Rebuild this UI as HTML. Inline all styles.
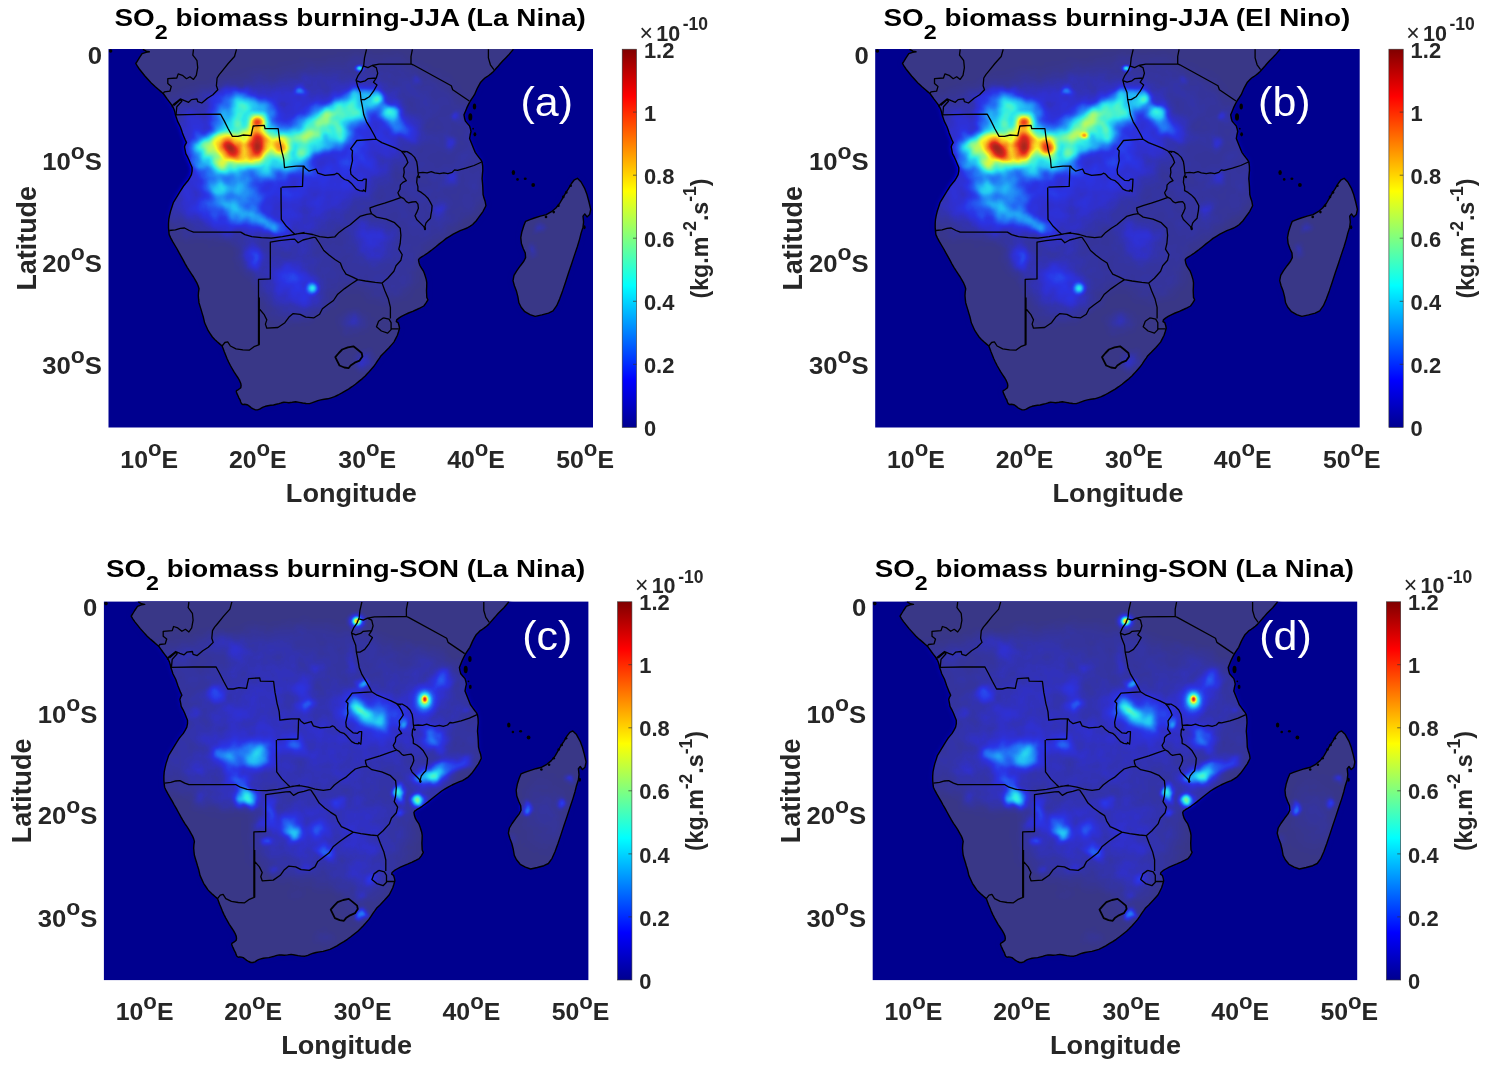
<!DOCTYPE html>
<html lang="en"><head><meta charset="utf-8"><title>SO2 biomass burning</title>
<style>
html,body{margin:0;padding:0;background:#fff}
body{width:1496px;height:1080px;overflow:hidden}
svg{display:block}
text{font-family:'Liberation Sans',Arial,Helvetica,sans-serif;font-weight:bold;fill:#262626}
.t{fill:#000}
.w{fill:#fff;font-weight:normal}
</style></head><body>
<svg width="1496" height="1080" viewBox="0 0 1496 1080">
<defs>
<path id="land" d="M142.8 49.3 L146.3 51.2 L149.3 51.8 L146.0 52.3 L142.1 53.7 L139.3 57.9 L137.2 61.4 L135.8 63.5 L137.4 66.2 L139.3 69.0 L142.1 72.5 L144.9 76.0 L148.3 79.8 L151.8 83.6 L155.3 86.8 L158.8 89.8 L161.5 92.1 L163.6 94.0 L165.4 96.5 L167.1 98.9 L169.2 101.7 L171.3 104.4 L172.9 106.9 L174.0 109.3 L174.9 112.1 L175.4 114.8 L176.5 117.9 L177.5 121.1 L178.9 123.9 L180.3 126.7 L181.4 129.8 L182.4 132.9 L183.8 136.4 L185.2 139.8 L186.5 142.6 L185.2 144.8 L184.5 146.8 L185.2 150.3 L185.8 153.7 L187.7 157.2 L189.3 160.7 L190.7 164.2 L192.1 167.6 L192.1 171.1 L191.4 174.6 L189.7 177.8 L187.9 180.8 L185.8 183.3 L183.8 185.7 L182.0 188.5 L180.3 191.2 L173.3 202.7 L172.0 206.8 L170.6 211.0 L169.6 215.2 L168.8 219.3 L168.5 223.5 L168.5 227.7 L168.8 231.2 L169.2 234.6 L170.8 238.1 L172.7 241.6 L174.7 245.0 L176.8 248.5 L178.9 252.4 L181.0 256.1 L183.1 259.9 L185.2 263.8 L187.2 267.3 L189.3 270.7 L191.4 273.8 L193.5 277.0 L195.3 280.2 L197.0 283.2 L198.2 286.0 L199.0 288.8 L198.5 292.3 L198.3 295.7 L198.6 299.2 L199.0 302.7 L200.0 306.1 L201.1 309.6 L202.1 313.1 L203.2 316.6 L203.9 319.6 L204.6 322.8 L208.2 330.7 L210.3 333.9 L212.4 337.0 L214.7 339.5 L217.2 341.8 L219.6 343.9 L222.1 346.0 L223.2 348.8 L224.2 351.6 L225.6 355.0 L227.0 358.5 L228.6 362.0 L230.4 365.5 L232.1 368.5 L233.9 371.7 L236.0 374.9 L238.1 378.0 L239.6 380.7 L240.8 383.5 L241.1 385.7 L240.8 387.7 L239.5 388.8 L238.1 389.8 L236.5 390.7 L236.3 391.8 L237.1 393.9 L238.1 396.0 L239.0 398.1 L240.2 400.2 L240.7 402.0 L241.5 403.6 L242.9 404.6 L244.3 404.3 L246.0 404.5 L247.8 405.0 L249.6 406.4 L251.3 407.8 L253.3 408.9 L255.4 409.9 L257.5 409.9 L259.6 409.2 L261.3 408.1 L263.1 407.1 L265.4 406.3 L267.9 405.7 L270.7 405.3 L273.5 405.0 L276.3 404.3 L279.0 403.6 L281.5 402.8 L283.9 402.3 L286.3 402.4 L288.8 402.7 L292.2 402.3 L295.7 401.8 L299.2 402.4 L302.7 403.0 L306.1 403.5 L309.6 403.6 L312.4 402.7 L315.2 401.6 L317.9 400.6 L320.7 399.9 L324.2 399.3 L327.7 398.8 L331.1 397.8 L334.6 396.7 L338.1 395.0 L341.5 393.2 L345.0 391.1 L348.5 389.1 L352.0 386.7 L355.4 384.2 L358.9 381.4 L362.4 378.6 L365.2 375.9 L367.9 373.1 L370.7 370.0 L373.5 366.8 L375.6 363.8 L377.7 360.6 L379.5 358.1 L381.1 355.7 L384.6 352.3 L389.0 347.7 L391.5 344.9 L393.9 342.1 L395.7 338.6 L397.4 335.2 L398.5 331.7 L399.5 328.2 L399.0 325.5 L398.1 322.7 L396.3 321.6 L396.7 319.9 L398.8 318.1 L401.5 316.4 L405.0 314.6 L408.5 313.0 L412.7 311.3 L416.8 309.5 L420.3 307.8 L423.8 306.0 L425.9 303.2 L427.9 299.8 L426.8 297.4 L426.5 290.5 L426.7 286.6 L426.8 282.8 L426.3 279.6 L425.4 276.6 L424.5 273.8 L423.4 271.0 L421.5 268.2 L419.9 265.5 L419.0 262.7 L418.5 259.9 L419.3 258.5 L421.3 257.1 L424.0 255.5 L426.8 253.7 L429.6 251.6 L432.4 249.5 L435.9 246.7 L439.3 243.9 L442.8 241.2 L446.3 238.4 L449.7 236.3 L453.2 234.2 L456.7 232.4 L460.2 230.7 L463.6 229.3 L467.1 228.0 L469.9 226.3 L472.7 224.5 L474.3 222.8 L476.1 221.0 L477.8 218.7 L479.6 216.2 L481.3 213.8 L483.1 211.3 L484.5 208.5 L485.9 205.7 L485.2 201.6 L484.0 198.1 L483.1 194.6 L482.8 187.1 L482.5 182.9 L482.1 178.7 L482.4 174.6 L482.8 170.4 L482.7 166.2 L482.1 162.1 L481.0 160.0 L479.3 157.9 L477.2 155.1 L475.2 152.3 L473.8 148.9 L472.4 145.4 L471.0 141.9 L469.6 138.5 L470.2 135.0 L471.0 131.5 L470.4 128.7 L469.6 126.0 L467.5 123.6 L465.4 121.1 L464.5 118.0 L464.0 114.8 L465.4 111.4 L466.8 107.9 L468.5 104.4 L470.3 101.0 L472.4 97.8 L474.5 94.7 L475.9 91.5 L477.2 88.5 L478.9 85.3 L480.7 82.2 L482.8 80.1 L484.9 78.0 L487.0 76.7 L489.0 75.3 L491.1 73.6 L493.2 71.8 L495.6 69.0 L498.1 66.2 L500.4 63.5 L502.9 60.7 L505.7 57.9 L508.5 55.1 L511.0 52.1 L513.4 49.3 L513.4 40.0 L142.8 40.0ZM577.4 178.3 L581.1 182.0 L584.8 188.7 L587.0 194.6 L589.0 202.0 L590.7 209.4 L589.6 214.6 L587.0 216.9 L584.8 213.9 L583.0 216.1 L583.6 222.0 L583.0 227.2 L581.1 233.1 L579.6 239.1 L577.4 246.5 L574.4 255.4 L571.5 264.3 L568.5 273.1 L565.6 282.0 L562.6 290.9 L559.6 299.1 L556.7 305.7 L553.0 310.9 L548.5 313.1 L541.9 314.9 L535.2 316.4 L530.0 314.6 L524.8 311.7 L521.1 307.2 L518.9 302.8 L517.9 296.9 L516.4 290.9 L514.4 285.7 L513.0 280.6 L514.0 275.4 L516.7 270.9 L520.4 265.7 L523.8 261.3 L525.6 257.6 L525.3 253.1 L523.3 248.7 L521.4 243.5 L520.8 237.6 L521.9 231.7 L523.8 225.7 L525.6 221.3 L529.3 219.8 L534.4 218.0 L540.4 216.1 L546.3 214.6 L551.5 211.7 L555.9 208.0 L559.6 203.5 L562.6 198.3 L565.6 193.1 L568.5 188.7 L571.5 183.5 L574.4 179.8Z"/>
<path id="coast" d="M142.8 49.3 L146.3 51.2 L149.3 51.8 L146.0 52.3 L142.1 53.7 L139.3 57.9 L137.2 61.4 L135.8 63.5 L137.4 66.2 L139.3 69.0 L142.1 72.5 L144.9 76.0 L148.3 79.8 L151.8 83.6 L155.3 86.8 L158.8 89.8 L161.5 92.1 L163.6 94.0 L165.4 96.5 L167.1 98.9 L169.2 101.7 L171.3 104.4 L172.9 106.9 L174.0 109.3 L174.9 112.1 L175.4 114.8 L176.5 117.9 L177.5 121.1 L178.9 123.9 L180.3 126.7 L181.4 129.8 L182.4 132.9 L183.8 136.4 L185.2 139.8 L186.5 142.6 L185.2 144.8 L184.5 146.8 L185.2 150.3 L185.8 153.7 L187.7 157.2 L189.3 160.7 L190.7 164.2 L192.1 167.6 L192.1 171.1 L191.4 174.6 L189.7 177.8 L187.9 180.8 L185.8 183.3 L183.8 185.7 L182.0 188.5 L180.3 191.2 L173.3 202.7 L172.0 206.8 L170.6 211.0 L169.6 215.2 L168.8 219.3 L168.5 223.5 L168.5 227.7 L168.8 231.2 L169.2 234.6 L170.8 238.1 L172.7 241.6 L174.7 245.0 L176.8 248.5 L178.9 252.4 L181.0 256.1 L183.1 259.9 L185.2 263.8 L187.2 267.3 L189.3 270.7 L191.4 273.8 L193.5 277.0 L195.3 280.2 L197.0 283.2 L198.2 286.0 L199.0 288.8 L198.5 292.3 L198.3 295.7 L198.6 299.2 L199.0 302.7 L200.0 306.1 L201.1 309.6 L202.1 313.1 L203.2 316.6 L203.9 319.6 L204.6 322.8 L208.2 330.7 L210.3 333.9 L212.4 337.0 L214.7 339.5 L217.2 341.8 L219.6 343.9 L222.1 346.0 L223.2 348.8 L224.2 351.6 L225.6 355.0 L227.0 358.5 L228.6 362.0 L230.4 365.5 L232.1 368.5 L233.9 371.7 L236.0 374.9 L238.1 378.0 L239.6 380.7 L240.8 383.5 L241.1 385.7 L240.8 387.7 L239.5 388.8 L238.1 389.8 L236.5 390.7 L236.3 391.8 L237.1 393.9 L238.1 396.0 L239.0 398.1 L240.2 400.2 L240.7 402.0 L241.5 403.6 L242.9 404.6 L244.3 404.3 L246.0 404.5 L247.8 405.0 L249.6 406.4 L251.3 407.8 L253.3 408.9 L255.4 409.9 L257.5 409.9 L259.6 409.2 L261.3 408.1 L263.1 407.1 L265.4 406.3 L267.9 405.7 L270.7 405.3 L273.5 405.0 L276.3 404.3 L279.0 403.6 L281.5 402.8 L283.9 402.3 L286.3 402.4 L288.8 402.7 L292.2 402.3 L295.7 401.8 L299.2 402.4 L302.7 403.0 L306.1 403.5 L309.6 403.6 L312.4 402.7 L315.2 401.6 L317.9 400.6 L320.7 399.9 L324.2 399.3 L327.7 398.8 L331.1 397.8 L334.6 396.7 L338.1 395.0 L341.5 393.2 L345.0 391.1 L348.5 389.1 L352.0 386.7 L355.4 384.2 L358.9 381.4 L362.4 378.6 L365.2 375.9 L367.9 373.1 L370.7 370.0 L373.5 366.8 L375.6 363.8 L377.7 360.6 L379.5 358.1 L381.1 355.7 L384.6 352.3 L389.0 347.7 L391.5 344.9 L393.9 342.1 L395.7 338.6 L397.4 335.2 L398.5 331.7 L399.5 328.2 L399.0 325.5 L398.1 322.7 L396.3 321.6 L396.7 319.9 L398.8 318.1 L401.5 316.4 L405.0 314.6 L408.5 313.0 L412.7 311.3 L416.8 309.5 L420.3 307.8 L423.8 306.0 L425.9 303.2 L427.9 299.8 L426.8 297.4 L426.5 290.5 L426.7 286.6 L426.8 282.8 L426.3 279.6 L425.4 276.6 L424.5 273.8 L423.4 271.0 L421.5 268.2 L419.9 265.5 L419.0 262.7 L418.5 259.9 L419.3 258.5 L421.3 257.1 L424.0 255.5 L426.8 253.7 L429.6 251.6 L432.4 249.5 L435.9 246.7 L439.3 243.9 L442.8 241.2 L446.3 238.4 L449.7 236.3 L453.2 234.2 L456.7 232.4 L460.2 230.7 L463.6 229.3 L467.1 228.0 L469.9 226.3 L472.7 224.5 L474.3 222.8 L476.1 221.0 L477.8 218.7 L479.6 216.2 L481.3 213.8 L483.1 211.3 L484.5 208.5 L485.9 205.7 L485.2 201.6 L484.0 198.1 L483.1 194.6 L482.8 187.1 L482.5 182.9 L482.1 178.7 L482.4 174.6 L482.8 170.4 L482.7 166.2 L482.1 162.1 L481.0 160.0 L479.3 157.9 L477.2 155.1 L475.2 152.3 L473.8 148.9 L472.4 145.4 L471.0 141.9 L469.6 138.5 L470.2 135.0 L471.0 131.5 L470.4 128.7 L469.6 126.0 L467.5 123.6 L465.4 121.1 L464.5 118.0 L464.0 114.8 L465.4 111.4 L466.8 107.9 L468.5 104.4 L470.3 101.0 L472.4 97.8 L474.5 94.7 L475.9 91.5 L477.2 88.5 L478.9 85.3 L480.7 82.2 L482.8 80.1 L484.9 78.0 L487.0 76.7 L489.0 75.3 L491.1 73.6 L493.2 71.8 L495.6 69.0 L498.1 66.2 L500.4 63.5 L502.9 60.7 L505.7 57.9 L508.5 55.1 L511.0 52.1 L513.4 49.3M577.4 178.3 L581.1 182.0 L584.8 188.7 L587.0 194.6 L589.0 202.0 L590.7 209.4 L589.6 214.6 L587.0 216.9 L584.8 213.9 L583.0 216.1 L583.6 222.0 L583.0 227.2 L581.1 233.1 L579.6 239.1 L577.4 246.5 L574.4 255.4 L571.5 264.3 L568.5 273.1 L565.6 282.0 L562.6 290.9 L559.6 299.1 L556.7 305.7 L553.0 310.9 L548.5 313.1 L541.9 314.9 L535.2 316.4 L530.0 314.6 L524.8 311.7 L521.1 307.2 L518.9 302.8 L517.9 296.9 L516.4 290.9 L514.4 285.7 L513.0 280.6 L514.0 275.4 L516.7 270.9 L520.4 265.7 L523.8 261.3 L525.6 257.6 L525.3 253.1 L523.3 248.7 L521.4 243.5 L520.8 237.6 L521.9 231.7 L523.8 225.7 L525.6 221.3 L529.3 219.8 L534.4 218.0 L540.4 216.1 L546.3 214.6 L551.5 211.7 L555.9 208.0 L559.6 203.5 L562.6 198.3 L565.6 193.1 L568.5 188.7 L571.5 183.5 L574.4 179.8Z"/>
<path id="borders" d="M193.5 49.3 L192.8 55.1 L195.2 58.2 L197.0 60.7 L197.7 67.6 L196.3 75.3 L193.5 79.4 L190.0 76.7 L186.5 78.7 L182.4 75.3 L178.2 73.9 L176.8 78.0 L167.8 78.7 L167.8 83.6 L171.3 86.4 L169.9 91.2 L164.3 91.9 L162.9 94.0M236.5 49.3 L234.5 56.5 L228.2 63.5 L222.7 70.4 L219.2 74.6 L217.1 78.0 L216.4 85.7 L217.8 89.8 L212.9 94.7 L207.4 98.2 L201.8 103.0 L197.7 101.7 L197.0 98.9 L191.4 99.6 L188.6 102.3 L184.5 100.7 L180.3 98.9 L176.8 101.7 L173.3 104.4 L172.0 107.2M174.0 105.4 L180.3 99.8 L181.8 101.2 L176.8 106.8 L176.1 114.2M175.4 114.8 L197.7 114.4 L220.6 114.2 L224.0 120.4 L228.2 128.7 L232.4 136.4 L237.9 136.4 L243.5 135.0 L251.1 135.7 L252.1 130.8 L253.2 126.0 L264.3 125.3 L265.0 128.5 L278.2 128.7 L278.9 134.3 L279.6 139.8 L280.7 145.4 L281.7 151.0 L282.8 155.1 L283.8 159.3 L284.5 167.6 L289.3 166.9 L296.3 166.2 L303.2 166.2 L302.9 176.0 L302.5 186.4 L281.7 187.1M281.0 187.4 L281.1 203.4 L281.3 219.3 L286.5 226.3 L292.1 231.8 L294.9 234.3M169.2 230.5 L175.4 229.8 L180.3 228.4 L184.5 228.0 L189.3 230.5 L193.5 232.1 L217.1 232.1 L240.7 232.1 L244.9 234.6 L251.8 236.7 L261.5 237.7 L271.3 238.1 L282.4 236.7 L293.5 234.6 L304.6 232.5M296.0 233.8 L304.3 233.1 L312.7 234.5 L319.6 236.6 L327.9 237.7 L334.9 236.8 L339.0 232.4 L344.6 228.2 L350.2 224.8 L355.7 219.9 L359.9 216.4 L366.8 214.3 L371.7 213.7M315.4 237.3 L313.4 237.3 L308.5 238.7 L302.9 240.0 L298.1 242.8 L294.6 239.1 L290.4 239.3 L279.3 240.7 L270.3 242.1 L270.3 278.9 L258.5 279.3 L258.5 344.9M259.3 297.4 L259.3 344.6 L254.0 346.7 L249.2 350.2 L242.9 349.9 L236.0 348.8 L230.4 346.0 L227.7 341.8 L224.9 342.5 L222.1 346.0M315.4 237.3 L319.6 243.5 L323.8 250.5 L329.3 255.3 L334.9 259.5 L340.4 263.0 L342.5 268.5 L346.0 274.1 L352.2 276.8 L357.8 279.6M357.8 279.6 L365.4 281.0 L375.2 282.4 L382.1 283.1M382.1 283.1 L387.7 278.2 L393.9 271.3 L396.0 265.7 L400.9 260.2 L402.2 254.6 L398.8 249.1 L400.2 243.5 L400.9 235.2 L400.2 228.2 L394.6 222.7 L386.3 219.2 L376.5 217.1 L371.7 213.7M357.8 279.6 L351.5 283.8 L344.6 288.6 L337.7 294.2 L333.5 300.5 L327.9 304.6 L322.4 308.8 L319.6 314.3 L314.0 317.8 L305.7 317.1 L300.2 314.3 L293.2 313.6 L289.0 317.1 L284.9 322.7 L277.9 327.5 L266.8 328.2 L265.4 324.1 L266.8 319.9 L264.0 314.3 L259.9 309.5 L258.5 308.8M382.1 283.1 L384.9 290.7 L388.4 299.1 L390.4 307.4 L390.4 318.5M383.5 317.8 L389.0 319.2 L391.1 322.7 L391.1 329.6 L387.7 333.1 L381.4 331.0 L376.5 326.8 L378.6 321.3 L383.5 317.8M391.1 328.9 L398.8 328.9M366.5 49.3 L364.5 57.9 L363.8 64.8 L361.7 70.4 L358.2 75.3 L356.1 80.1 L357.5 85.7 L360.3 92.6 L361.0 99.6 L362.4 106.5 L363.8 114.8 L366.5 121.8 L370.7 128.7 L374.2 135.0 L376.3 139.2 L381.8 142.6 L388.8 145.4 L395.7 148.2 L401.3 151.0 L405.4 152.3M363.8 66.2 L367.9 67.6 L372.1 65.5 L376.3 67.6 L377.7 73.2 L376.3 78.0 L367.9 78.7 L365.2 80.8 L360.3 82.2 L356.8 80.8M376.3 78.0 L373.5 82.2 L377.0 85.0 L373.5 91.2 L369.3 96.8 L364.5 99.6 L361.0 99.6M372.1 65.5 L379.0 64.2 L411.0 63.9 L413.1 64.8 L451.3 85.7 L452.7 89.8 L469.3 101.0M412.4 49.3 L411.0 56.5 L411.0 63.9M488.4 49.3 L488.4 57.9 L490.4 64.8 L493.9 69.7M376.3 139.2 L356.8 140.5 L350.6 148.9 L352.5 150.7 L352.1 155.7 L352.5 160.7 L351.3 165.7 L350.4 169.9 L350.9 174.1 L353.8 177.0 L357.9 180.3 L362.1 180.7 L363.8 179.1 L366.3 179.1 L365.9 186.6 L365.4 191.6 L363.4 189.9 L362.9 191.2 L359.6 190.7 L356.3 189.1 L353.4 185.7 L351.3 183.2 L348.4 180.7 L344.6 179.5 L341.3 177.0 L338.8 174.1 L337.1 173.2 L334.6 174.5 L324.9 175.3 L317.9 173.2 L315.9 169.0 L308.9 171.1 L305.4 168.3 L304.0 166.2 L302.7 166.5M401.3 151.2 L403.8 154.1 L406.3 158.2 L407.9 162.4 L405.9 165.3 L403.8 168.2 L404.2 172.4 L403.4 176.6 L406.3 180.7 L402.9 182.4 L400.4 184.9 L400.0 189.1 L397.9 192.8 L399.2 195.7 L401.3 197.4 L403.8 198.7 L406.3 201.6 L408.4 202.8 L412.1 202.0 L415.9 201.6 L417.9 204.1 L418.4 208.2 L416.7 212.4 L415.0 215.7 L416.7 219.5 L419.6 222.4 L422.1 224.9 L423.8 226.6 L425.0 229.5M401.3 151.2 L407.1 151.6 L411.3 154.1 L414.6 157.4 L416.7 161.6 L417.5 166.6 L417.9 171.6 L418.4 174.9 L417.1 177.4 L416.7 182.4 L417.9 186.6 L417.9 190.7 L421.3 192.4 L424.6 194.9 L427.9 198.2 L430.4 202.4 L432.1 205.7 L431.7 210.7 L430.9 214.9 L430.4 218.2 L427.9 220.7 L425.9 223.2 L425.0 226.6 L425.0 229.5M401.3 197.4 L392.9 200.3 L384.6 203.2 L376.3 205.7 L370.0 207.8 L370.4 210.7 L371.7 214.1M418.4 172.8 L422.9 172.4 L427.1 172.8 L431.3 171.6 L434.6 172.8 L439.6 173.7 L443.8 172.8 L447.9 173.7 L452.1 172.4 L454.6 169.9 L457.4 170.3 L465.7 168.2 L474.0 165.5 L481.7 162.0"/>
<path id="lesotho" d="M335.3 357.1 L338.8 353.0 L342.2 349.5 L347.8 347.4 L353.4 346.3 L357.5 349.5 L361.7 353.0 L362.4 356.4 L359.6 360.6 L354.7 362.7 L350.6 365.5 L348.5 368.2 L344.3 367.5 L339.5 365.5 L337.4 361.3Z"/>
<clipPath id="mapclip"><rect x="108.5" y="49.0" width="484.5" height="378.5"/></clipPath>
<clipPath id="landclip"><use href="#land" clip-path="url(#mapclip)"/></clipPath>
<radialGradient id="g"><stop offset="0" stop-color="#fff" stop-opacity="1"/><stop offset=".15" stop-color="#fff" stop-opacity=".92"/><stop offset=".3" stop-color="#fff" stop-opacity=".72"/><stop offset=".45" stop-color="#fff" stop-opacity=".47"/><stop offset=".6" stop-color="#fff" stop-opacity=".26"/><stop offset=".75" stop-color="#fff" stop-opacity=".11"/><stop offset=".9" stop-color="#fff" stop-opacity=".03"/><stop offset="1" stop-color="#fff" stop-opacity="0"/></radialGradient>
<filter id="bl6" x="-30%" y="-30%" width="160%" height="160%"><feGaussianBlur stdDeviation="6"/></filter>
<filter id="bl8" x="-30%" y="-30%" width="160%" height="160%"><feGaussianBlur stdDeviation="8"/></filter>
<filter id="bl10" x="-30%" y="-30%" width="160%" height="160%"><feGaussianBlur stdDeviation="10"/></filter>
<filter id="bl16" x="-30%" y="-30%" width="160%" height="160%"><feGaussianBlur stdDeviation="16"/></filter>
<radialGradient id="p"><stop offset="0" stop-color="#fff" stop-opacity="1"/><stop offset=".35" stop-color="#fff" stop-opacity=".96"/><stop offset=".5" stop-color="#fff" stop-opacity=".82"/><stop offset=".65" stop-color="#fff" stop-opacity=".55"/><stop offset=".78" stop-color="#fff" stop-opacity=".27"/><stop offset=".9" stop-color="#fff" stop-opacity=".08"/><stop offset="1" stop-color="#fff" stop-opacity="0"/></radialGradient>
<filter id="warp" x="0" y="0" width="1" height="1" filterUnits="objectBoundingBox" color-interpolation-filters="sRGB"><feTurbulence type="fractalNoise" baseFrequency="0.06" numOctaves="2" seed="7" result="n"/><feDisplacementMap in="SourceGraphic" in2="n" scale="11" xChannelSelector="R" yChannelSelector="G" result="d"/><feColorMatrix in="n" type="matrix" values="0 0 1 0 0  0 0 1 0 0  0 0 1 0 0  0 0 0 0 1" result="ng"/><feComposite operator="arithmetic" in="d" in2="ng" k1="0.9" k2="0.55" k3="0" k4="0"/><feGaussianBlur stdDeviation="0.8"/></filter>
<filter id="jet" x="0" y="0" width="1" height="1" filterUnits="objectBoundingBox" color-interpolation-filters="sRGB"><feComponentTransfer><feFuncR type="table" tableValues="0.224 0.214 0.204 0.196 0.188 0.178 0.167 0.159 0.152 0.145 0.137 0.137 0.137 0.137 0.137 0.137 0.148 0.158 0.169 0.191 0.251 0.311 0.370 0.430 0.489 0.549 0.618 0.687 0.756 0.825 0.894 0.963 0.980 0.980 0.980 0.980 0.980 0.980 0.975 0.963 0.952 0.941 0.930 0.918 0.897 0.845 0.794 0.743 0.691 0.640 0.588"/><feFuncG type="table" tableValues="0.216 0.210 0.204 0.196 0.188 0.195 0.202 0.249 0.310 0.371 0.431 0.494 0.557 0.620 0.682 0.745 0.795 0.845 0.896 0.935 0.943 0.950 0.958 0.965 0.973 0.980 0.980 0.980 0.980 0.980 0.980 0.980 0.931 0.865 0.799 0.733 0.667 0.602 0.536 0.470 0.404 0.338 0.272 0.206 0.157 0.155 0.154 0.153 0.152 0.150 0.149"/><feFuncB type="table" tableValues="0.533 0.590 0.647 0.725 0.804 0.851 0.898 0.920 0.934 0.947 0.961 0.961 0.961 0.961 0.961 0.961 0.947 0.934 0.920 0.895 0.838 0.780 0.722 0.664 0.607 0.549 0.483 0.417 0.351 0.285 0.220 0.154 0.135 0.132 0.129 0.125 0.122 0.119 0.117 0.116 0.115 0.113 0.112 0.111 0.110 0.111 0.113 0.114 0.115 0.116 0.118"/></feComponentTransfer></filter>
<linearGradient id="cb" x1="0" y1="1" x2="0" y2="0"><stop offset="0" stop-color="#00008f"/><stop offset=".125" stop-color="#0000ff"/><stop offset=".375" stop-color="#00ffff"/><stop offset=".625" stop-color="#ffff00"/><stop offset=".875" stop-color="#ff0000"/><stop offset="1" stop-color="#800000"/></linearGradient>
<filter id="jetO" x="0" y="0" width="1" height="1" filterUnits="objectBoundingBox" color-interpolation-filters="sRGB"><feComponentTransfer><feFuncR type="table" tableValues="0.000 0.000 0.000 0.000 0.000 0.000 0.000 0.000 0.000 0.000 0.000 0.000 0.000 0.000 0.000 0.000 0.000 0.000 0.000 0.020 0.100 0.180 0.260 0.340 0.420 0.500 0.580 0.660 0.740 0.820 0.900 0.980 1.000 1.000 1.000 1.000 1.000 1.000 1.000 1.000 1.000 1.000 1.000 1.000 0.980 0.900 0.821 0.741 0.661 0.582 0.502"/><feFuncG type="table" tableValues="0.000 0.000 0.000 0.000 0.000 0.000 0.000 0.060 0.140 0.220 0.300 0.380 0.460 0.540 0.620 0.700 0.780 0.860 0.940 1.000 1.000 1.000 1.000 1.000 1.000 1.000 1.000 1.000 1.000 1.000 1.000 1.000 0.940 0.860 0.780 0.700 0.620 0.540 0.460 0.380 0.300 0.220 0.140 0.060 0.000 0.000 0.000 0.000 0.000 0.000 0.000"/><feFuncB type="table" tableValues="0.561 0.631 0.701 0.772 0.842 0.912 0.982 1.000 1.000 1.000 1.000 1.000 1.000 1.000 1.000 1.000 1.000 1.000 1.000 0.980 0.900 0.820 0.740 0.660 0.580 0.500 0.420 0.340 0.260 0.180 0.100 0.020 0.000 0.000 0.000 0.000 0.000 0.000 0.000 0.000 0.000 0.000 0.000 0.000 0.000 0.000 0.000 0.000 0.000 0.000 0.000"/></feComponentTransfer></filter>
<filter id="bl2" x="-5%" y="-5%" width="110%" height="110%" color-interpolation-filters="sRGB"><feGaussianBlur stdDeviation="2.6"/><feComponentTransfer><feFuncA type="linear" slope="2.1" intercept="0"/></feComponentTransfer></filter>
<mask id="coastmask" maskUnits="userSpaceOnUse" x="98.5" y="39.0" width="504.5" height="398.5"><use href="#land" fill="#fff" filter="url(#bl2)"/></mask>
<g id="ha"><rect x="93.5" y="34.0" width="514.5" height="408.5" fill="#000"/>
<polygon points="150,100 185,95 230,80 300,70 350,60 400,62 440,80 470,110 490,150 485,200 450,230 420,250 410,290 380,300 350,280 330,300 300,320 270,320 262,290 262,250 230,240 175,232 150,200" fill="#fff" opacity="0.03" filter="url(#bl8)"/>
<polygon points="170,120 230,95 300,85 360,80 395,100 400,140 380,180 340,210 300,232 240,232 190,225 170,190" fill="#fff" opacity="0.05" filter="url(#bl10)"/>
<ellipse cx="273.3" cy="162.4" rx="132.4" ry="97.8" fill="url(#g)" opacity="0.03"/>
<ellipse cx="236.6" cy="188.9" rx="67.2" ry="61.1" fill="url(#g)" opacity="0.04"/>
<ellipse cx="380.9" cy="121.6" rx="61.1" ry="61.1" fill="url(#g)" opacity="0.03" transform="rotate(35 380.9 121.6)"/>
<ellipse cx="215.3" cy="153.9" rx="30.6" ry="30.6" fill="url(#p)" opacity="0.30"/>
<ellipse cx="244.4" cy="115.0" rx="41.7" ry="30.6" fill="url(#p)" opacity="0.27" transform="rotate(15 244.4 115.0)"/>
<ellipse cx="255.6" cy="151.1" rx="69.4" ry="33.3" fill="url(#p)" opacity="0.30"/>
<ellipse cx="322.2" cy="128.9" rx="58.3" ry="29.2" fill="url(#p)" opacity="0.31" transform="rotate(-27 322.2 128.9)"/>
<ellipse cx="358.3" cy="103.9" rx="30.6" ry="19.4" fill="url(#p)" opacity="0.20" transform="rotate(-15 358.3 103.9)"/>
<ellipse cx="377.8" cy="99.7" rx="13.9" ry="11.1" fill="url(#g)" opacity="0.18"/>
<ellipse cx="388.9" cy="114.4" rx="15.3" ry="11.7" fill="url(#g)" opacity="0.24" transform="rotate(30 388.9 114.4)"/>
<ellipse cx="400.0" cy="128.9" rx="33.3" ry="13.9" fill="url(#g)" opacity="0.07" transform="rotate(35 400.0 128.9)"/>
<ellipse cx="300.0" cy="90.6" rx="11.1" ry="8.3" fill="url(#g)" opacity="0.26" transform="rotate(20 300.0 90.6)"/>
<ellipse cx="291.7" cy="170.6" rx="33.3" ry="16.7" fill="url(#g)" opacity="0.10"/>
<ellipse cx="230.6" cy="195.6" rx="36.1" ry="41.7" fill="url(#p)" opacity="0.12" transform="rotate(10 230.6 195.6)"/>
<ellipse cx="220.8" cy="188.6" rx="13.9" ry="15.3" fill="url(#g)" opacity="0.14"/>
<ellipse cx="230.6" cy="209.4" rx="12.5" ry="13.9" fill="url(#g)" opacity="0.10"/>
<ellipse cx="266.7" cy="223.3" rx="36.1" ry="11.1" fill="url(#g)" opacity="0.22" transform="rotate(25 266.7 223.3)"/>
<ellipse cx="244.4" cy="217.8" rx="30.6" ry="19.4" fill="url(#g)" opacity="0.08" transform="rotate(30 244.4 217.8)"/>
<ellipse cx="251.4" cy="256.7" rx="12.5" ry="19.4" fill="url(#g)" opacity="0.08"/>
<ellipse cx="397.2" cy="119.6" rx="42.8" ry="19.3" fill="url(#g)" opacity="0.10" transform="rotate(35 397.2 119.6)"/>
<ellipse cx="417.6" cy="78.9" rx="9.2" ry="9.2" fill="url(#g)" opacity="0.05"/>
<ellipse cx="456.3" cy="116.6" rx="8.1" ry="8.1" fill="url(#g)" opacity="0.06"/>
<ellipse cx="450.2" cy="144.1" rx="10.2" ry="11.2" fill="url(#g)" opacity="0.05"/>
<ellipse cx="450.2" cy="178.7" rx="13.2" ry="11.2" fill="url(#g)" opacity="0.05"/>
<ellipse cx="437.9" cy="209.2" rx="11.2" ry="13.2" fill="url(#g)" opacity="0.05"/>
<ellipse cx="350.4" cy="162.4" rx="34.6" ry="40.7" fill="url(#g)" opacity="0.05"/>
<ellipse cx="250.9" cy="145.1" rx="65.2" ry="28.5" fill="url(#g)" opacity="0.38"/>
<ellipse cx="322.2" cy="126.1" rx="30.6" ry="16.7" fill="url(#g)" opacity="0.18" transform="rotate(-35 322.2 126.1)"/>
<ellipse cx="330.6" cy="112.8" rx="16.7" ry="12.5" fill="url(#g)" opacity="0.10" transform="rotate(-30 330.6 112.8)"/>
<ellipse cx="320.8" cy="133.9" rx="8.3" ry="7.2" fill="url(#g)" opacity="0.25"/>
<ellipse cx="248.9" cy="147.1" rx="46.8" ry="20.4" fill="url(#g)" opacity="0.35"/>
<ellipse cx="252.9" cy="258.7" rx="22.4" ry="26.5" fill="url(#g)" opacity="0.07"/>
<ellipse cx="289.6" cy="279.1" rx="42.8" ry="34.6" fill="url(#g)" opacity="0.09"/>
<ellipse cx="303.8" cy="297.4" rx="34.6" ry="28.5" fill="url(#g)" opacity="0.06"/>
<ellipse cx="375.1" cy="244.4" rx="32.6" ry="28.5" fill="url(#g)" opacity="0.04"/>
<ellipse cx="370.7" cy="236.3" rx="34.6" ry="24.4" fill="url(#g)" opacity="0.05"/>
<ellipse cx="293.7" cy="244.4" rx="32.6" ry="14.3" fill="url(#g)" opacity="0.04"/>
<ellipse cx="538.9" cy="229.4" rx="9.0" ry="8.0" fill="url(#g)" opacity="0.06"/>
<ellipse cx="531.5" cy="249.4" rx="9.0" ry="9.0" fill="url(#g)" opacity="0.06"/>
<ellipse cx="364.9" cy="360.5" rx="14.3" ry="14.3" fill="url(#g)" opacity="0.07"/>
<ellipse cx="352.7" cy="321.8" rx="22.4" ry="18.3" fill="url(#g)" opacity="0.05"/>
</g>
<g id="sa"><ellipse cx="359.7" cy="68.3" rx="6.7" ry="5.0" fill="url(#g)" opacity="0.35"/>
<ellipse cx="230.1" cy="147.7" rx="21.4" ry="14.3" fill="url(#g)" opacity="0.85" transform="rotate(35 230.1 147.7)"/>
<ellipse cx="257.4" cy="142.0" rx="14.3" ry="26.5" fill="url(#g)" opacity="0.75"/>
<ellipse cx="257.4" cy="122.1" rx="15.3" ry="13.2" fill="url(#g)" opacity="0.75"/>
<ellipse cx="281.4" cy="148.1" rx="14.3" ry="14.3" fill="url(#g)" opacity="0.45"/>
<ellipse cx="230.1" cy="147.7" rx="9.2" ry="6.1" fill="url(#g)" opacity="0.60" transform="rotate(35 230.1 147.7)"/>
<ellipse cx="257.4" cy="147.1" rx="6.1" ry="8.1" fill="url(#g)" opacity="0.50"/>
<ellipse cx="312.4" cy="288.2" rx="9.2" ry="9.2" fill="url(#g)" opacity="0.32"/>
</g>
<g id="hc"><rect x="93.5" y="34.0" width="514.5" height="408.5" fill="#000"/>
<polygon points="150,95 200,90 250,80 300,75 360,75 400,95 440,100 480,130 495,180 485,205 440,240 420,260 415,300 395,330 370,345 340,335 310,325 280,320 262,300 262,250 230,245 200,240 165,232 150,200" fill="#fff" opacity="0.03" filter="url(#bl8)"/>
<ellipse cx="244.4" cy="185.2" rx="85.5" ry="85.5" fill="url(#g)" opacity="0.05"/>
<ellipse cx="323.8" cy="193.3" rx="91.6" ry="81.5" fill="url(#g)" opacity="0.04"/>
<ellipse cx="283.1" cy="122.0" rx="91.6" ry="61.1" fill="url(#g)" opacity="0.03"/>
<ellipse cx="396.8" cy="173.0" rx="85.5" ry="85.5" fill="url(#g)" opacity="0.04"/>
<ellipse cx="435.5" cy="144.5" rx="53.0" ry="61.1" fill="url(#g)" opacity="0.03"/>
<ellipse cx="303.4" cy="281.5" rx="67.2" ry="61.1" fill="url(#g)" opacity="0.05"/>
<ellipse cx="364.5" cy="271.3" rx="61.1" ry="67.2" fill="url(#g)" opacity="0.04"/>
<ellipse cx="232.2" cy="244.8" rx="53.0" ry="26.5" fill="url(#g)" opacity="0.03"/>
<ellipse cx="370.3" cy="322.2" rx="46.8" ry="67.2" fill="url(#g)" opacity="0.03"/>
<ellipse cx="431.4" cy="236.7" rx="40.7" ry="32.6" fill="url(#g)" opacity="0.04"/>
<ellipse cx="549.6" cy="261.1" rx="34.6" ry="53.0" fill="url(#g)" opacity="0.03"/>
<ellipse cx="262.7" cy="201.5" rx="26.5" ry="22.4" fill="url(#g)" opacity="0.24"/>
<ellipse cx="232.2" cy="204.5" rx="24.4" ry="20.4" fill="url(#g)" opacity="0.17"/>
<ellipse cx="247.4" cy="203.5" rx="44.8" ry="22.4" fill="url(#g)" opacity="0.05"/>
<ellipse cx="219.9" cy="141.4" rx="15.3" ry="13.2" fill="url(#g)" opacity="0.12"/>
<ellipse cx="197.5" cy="160.7" rx="9.2" ry="9.2" fill="url(#g)" opacity="0.04"/>
<ellipse cx="311.6" cy="151.6" rx="13.2" ry="14.3" fill="url(#g)" opacity="0.14"/>
<ellipse cx="299.4" cy="191.3" rx="18.3" ry="14.3" fill="url(#g)" opacity="0.11" transform="rotate(20 299.4 191.3)"/>
<ellipse cx="319.7" cy="114.9" rx="14.3" ry="10.2" fill="url(#g)" opacity="0.03"/>
<ellipse cx="367.6" cy="131.2" rx="8.1" ry="8.1" fill="url(#g)" opacity="0.15"/>
<ellipse cx="236.2" cy="93.5" rx="46.8" ry="18.3" fill="url(#g)" opacity="0.04" transform="rotate(20 236.2 93.5)"/>
<ellipse cx="191.4" cy="100.7" rx="16.3" ry="12.2" fill="url(#g)" opacity="0.03"/>
<ellipse cx="305.5" cy="136.3" rx="18.3" ry="18.3" fill="url(#g)" opacity="0.04"/>
<ellipse cx="252.5" cy="244.2" rx="18.3" ry="14.3" fill="url(#g)" opacity="0.21"/>
<ellipse cx="242.3" cy="223.9" rx="22.4" ry="16.3" fill="url(#g)" opacity="0.06" transform="rotate(30 242.3 223.9)"/>
<ellipse cx="199.6" cy="219.8" rx="16.3" ry="16.3" fill="url(#g)" opacity="0.04"/>
<ellipse cx="373.4" cy="160.7" rx="46.8" ry="26.5" fill="url(#g)" opacity="0.23" transform="rotate(15 373.4 160.7)"/>
<ellipse cx="363.2" cy="158.7" rx="15.3" ry="13.2" fill="url(#g)" opacity="0.27"/>
<ellipse cx="380.5" cy="164.8" rx="22.4" ry="12.2" fill="url(#g)" opacity="0.11" transform="rotate(20 380.5 164.8)"/>
<ellipse cx="409.0" cy="173.0" rx="9.2" ry="12.2" fill="url(#g)" opacity="0.24"/>
<ellipse cx="367.3" cy="131.2" rx="8.1" ry="8.1" fill="url(#g)" opacity="0.15"/>
<ellipse cx="445.7" cy="127.1" rx="16.3" ry="20.4" fill="url(#g)" opacity="0.14" transform="rotate(20 445.7 127.1)"/>
<ellipse cx="438.6" cy="186.2" rx="26.5" ry="16.3" fill="url(#g)" opacity="0.17" transform="rotate(35 438.6 186.2)"/>
<ellipse cx="455.9" cy="211.7" rx="30.5" ry="12.2" fill="url(#g)" opacity="0.17" transform="rotate(-10 455.9 211.7)"/>
<ellipse cx="438.6" cy="220.8" rx="22.4" ry="11.2" fill="url(#g)" opacity="0.19" transform="rotate(-20 438.6 220.8)"/>
<ellipse cx="403.9" cy="240.2" rx="9.2" ry="11.2" fill="url(#g)" opacity="0.21"/>
<ellipse cx="422.3" cy="247.3" rx="10.2" ry="9.2" fill="url(#g)" opacity="0.23"/>
<ellipse cx="380.5" cy="186.2" rx="18.3" ry="16.3" fill="url(#g)" opacity="0.04"/>
<ellipse cx="472.2" cy="156.7" rx="7.1" ry="7.1" fill="url(#g)" opacity="0.05"/>
<ellipse cx="356.1" cy="111.9" rx="8.1" ry="24.4" fill="url(#g)" opacity="0.04"/>
<ellipse cx="573.0" cy="226.9" rx="7.1" ry="7.1" fill="url(#g)" opacity="0.05"/>
<ellipse cx="252.5" cy="245.9" rx="16.3" ry="15.3" fill="url(#g)" opacity="0.18"/>
<ellipse cx="244.4" cy="232.6" rx="26.5" ry="12.2" fill="url(#g)" opacity="0.11" transform="rotate(40 244.4 232.6)"/>
<ellipse cx="203.7" cy="246.9" rx="13.2" ry="11.2" fill="url(#g)" opacity="0.04"/>
<ellipse cx="225.0" cy="250.9" rx="13.2" ry="11.2" fill="url(#g)" opacity="0.04"/>
<ellipse cx="274.9" cy="260.1" rx="11.2" ry="24.4" fill="url(#g)" opacity="0.12"/>
<ellipse cx="264.8" cy="270.3" rx="12.2" ry="10.2" fill="url(#g)" opacity="0.05"/>
<ellipse cx="299.4" cy="282.5" rx="13.2" ry="12.2" fill="url(#g)" opacity="0.24"/>
<ellipse cx="295.3" cy="271.3" rx="18.3" ry="18.3" fill="url(#g)" opacity="0.11"/>
<ellipse cx="272.9" cy="289.6" rx="8.1" ry="7.1" fill="url(#g)" opacity="0.15"/>
<ellipse cx="323.8" cy="277.4" rx="15.3" ry="14.3" fill="url(#g)" opacity="0.11"/>
<ellipse cx="327.9" cy="296.8" rx="18.3" ry="9.2" fill="url(#g)" opacity="0.14" transform="rotate(35 327.9 296.8)"/>
<ellipse cx="309.6" cy="314.1" rx="13.2" ry="11.2" fill="url(#g)" opacity="0.05"/>
<ellipse cx="279.0" cy="318.2" rx="9.2" ry="9.2" fill="url(#g)" opacity="0.05"/>
<ellipse cx="342.1" cy="248.9" rx="11.2" ry="10.2" fill="url(#g)" opacity="0.04"/>
<ellipse cx="367.6" cy="361.3" rx="8.1" ry="9.2" fill="url(#g)" opacity="0.24"/>
<ellipse cx="374.7" cy="326.3" rx="9.2" ry="10.2" fill="url(#g)" opacity="0.06"/>
<ellipse cx="329.9" cy="385.4" rx="18.3" ry="14.3" fill="url(#g)" opacity="0.02"/>
<ellipse cx="301.4" cy="340.6" rx="14.3" ry="10.2" fill="url(#g)" opacity="0.01"/>
<ellipse cx="437.5" cy="224.5" rx="26.5" ry="11.2" fill="url(#g)" opacity="0.21"/>
<ellipse cx="423.3" cy="248.9" rx="11.2" ry="10.2" fill="url(#g)" opacity="0.29"/>
<ellipse cx="403.9" cy="240.8" rx="7.7" ry="13.2" fill="url(#g)" opacity="0.24"/>
<ellipse cx="402.9" cy="258.1" rx="6.5" ry="6.5" fill="url(#g)" opacity="0.15"/>
<ellipse cx="530.2" cy="255.0" rx="9.8" ry="10.6" fill="url(#g)" opacity="0.23"/>
<ellipse cx="566.9" cy="250.9" rx="8.1" ry="9.2" fill="url(#g)" opacity="0.15"/>
<ellipse cx="573.0" cy="228.5" rx="6.5" ry="7.1" fill="url(#g)" opacity="0.05"/>
<ellipse cx="519.0" cy="285.6" rx="9.2" ry="10.2" fill="url(#g)" opacity="0.03"/>
<ellipse cx="341.8" cy="248.9" rx="14.3" ry="12.2" fill="url(#g)" opacity="0.04"/>
<ellipse cx="364.2" cy="342.6" rx="9.2" ry="10.2" fill="url(#g)" opacity="0.04"/>
<ellipse cx="329.6" cy="297.8" rx="10.2" ry="10.2" fill="url(#g)" opacity="0.04"/>
</g>
<g id="sc"><ellipse cx="361.5" cy="68.5" rx="12.2" ry="11.2" fill="url(#g)" opacity="0.32"/>
<ellipse cx="361.5" cy="68.5" rx="6.1" ry="5.7" fill="url(#g)" opacity="0.61"/>
<ellipse cx="429.0" cy="148.5" rx="17.3" ry="20.4" fill="url(#g)" opacity="0.29"/>
<ellipse cx="429.4" cy="146.9" rx="9.0" ry="10.6" fill="url(#g)" opacity="0.46"/>
<ellipse cx="429.4" cy="146.5" rx="4.1" ry="5.3" fill="url(#g)" opacity="0.72"/>
</g>
</defs>
<g transform="translate(0.0 0.0)">
<rect x="108.5" y="49.0" width="484.5" height="378.5" fill="#00008f"/>
<g clip-path="url(#mapclip)"><g mask="url(#coastmask)"><g filter="url(#jetO)"><use href="#ha"/><use href="#sa"/></g></g></g>
<g clip-path="url(#landclip)"><g filter="url(#jet)"><g filter="url(#warp)"><use href="#ha"/></g><use href="#sa"/></g></g>
<g clip-path="url(#mapclip)" fill="none" stroke="#000" stroke-linejoin="round"><use href="#coast" stroke-width="1.4"/><use href="#borders" stroke-width="1.3"/><use href="#lesotho" stroke-width="1.8"/><g fill="#000" stroke="none"><ellipse cx="513.4" cy="172.5" rx="1.7" ry="2.5"/><ellipse cx="517.5" cy="179.4" rx="1.3" ry="1.3"/><ellipse cx="525.2" cy="178.7" rx="1.5" ry="1.3"/><ellipse cx="533.2" cy="185.0" rx="1.9" ry="2.0"/><ellipse cx="474.5" cy="106.5" rx="1.7" ry="3.0"/><ellipse cx="470.3" cy="116.9" rx="2.0" ry="3.7"/><ellipse cx="474.9" cy="134.3" rx="1.4" ry="2.1"/><ellipse cx="473.1" cy="128.7" rx="0.9" ry="0.9"/><ellipse cx="584.4" cy="227.2" rx="1.2" ry="2.0"/><ellipse cx="563.3" cy="196.9" rx="1.3" ry="1.3"/><ellipse cx="566.3" cy="192.4" rx="1.3" ry="1.3"/><ellipse cx="558.4" cy="205.7" rx="1.3" ry="1.3"/><ellipse cx="553.7" cy="212.1" rx="1.3" ry="1.3"/><ellipse cx="546.0" cy="216.9" rx="1.3" ry="1.3"/><ellipse cx="570.7" cy="185.7" rx="1.3" ry="1.3"/><ellipse cx="419.2" cy="177.0" rx="1.2" ry="1.2"/><ellipse cx="425.0" cy="228.7" rx="1.1" ry="1.6"/><circle cx="110.6" cy="51.0" r="1.8"/></g></g>
<rect x="622.2" y="49.2" width="14.3" height="378.2" fill="url(#cb)" stroke="#333" stroke-width="0.6"/>
<line x1="633" x2="636.5" y1="364.3" y2="364.3" stroke="#333" stroke-width="0.7"/><line x1="633" x2="636.5" y1="301.3" y2="301.3" stroke="#333" stroke-width="0.7"/><line x1="633" x2="636.5" y1="238.2" y2="238.2" stroke="#333" stroke-width="0.7"/><line x1="633" x2="636.5" y1="175.2" y2="175.2" stroke="#333" stroke-width="0.7"/><line x1="633" x2="636.5" y1="112.1" y2="112.1" stroke="#333" stroke-width="0.7"/>
<text transform="translate(643.9 436.0) scale(1.020 1)" font-size="21.5">0</text>
<text transform="translate(643.9 372.9) scale(1.020 1)" font-size="21.5">0.2</text>
<text transform="translate(643.9 309.9) scale(1.020 1)" font-size="21.5">0.4</text>
<text transform="translate(643.9 246.8) scale(1.020 1)" font-size="21.5">0.6</text>
<text transform="translate(643.9 183.8) scale(1.020 1)" font-size="21.5">0.8</text>
<text transform="translate(643.9 120.7) scale(1.020 1)" font-size="21.5">1</text>
<text transform="translate(643.9 57.7) scale(1.020 1)" font-size="21.5">1.2</text>
<text transform="translate(639.6 40.8)" font-size="21.5"><tspan font-weight="normal" font-size="23">×</tspan><tspan dx="3.2">10</tspan><tspan font-size="17.5" dy="-10.8" dx="2.6">-10</tspan></text>
<text transform="translate(707.5 298.5) rotate(-90) scale(1 1.020)" font-size="23.2">(kg.m<tspan font-size="17.5" dy="-11">-2</tspan><tspan dy="11">.s</tspan><tspan font-size="17.5" dy="-11">-1</tspan><tspan dy="11">)</tspan></text>
<text class="t" transform="translate(350.2 26.1) scale(1.123 1)" text-anchor="middle" font-size="24.8">SO<tspan font-size="20.8" dy="13.2">2</tspan><tspan dy="-13.2"> biomass burning-JJA (La Nina)</tspan></text>
<text transform="translate(102.0 63.7) scale(1.070 1)" font-size="24.0" text-anchor="end">0</text>
<text transform="translate(102.0 170.4) scale(1.070 1)" text-anchor="end" font-size="24">10<tspan font-size="21.5" dy="-11.6">o</tspan><tspan dy="11.6">S</tspan></text>
<text transform="translate(102.0 271.7) scale(1.070 1)" text-anchor="end" font-size="24">20<tspan font-size="21.5" dy="-11.6">o</tspan><tspan dy="11.6">S</tspan></text>
<text transform="translate(102.0 374.4) scale(1.070 1)" text-anchor="end" font-size="24">30<tspan font-size="21.5" dy="-11.6">o</tspan><tspan dy="11.6">S</tspan></text>
<text transform="translate(149.2 467.7) scale(1.035 1)" text-anchor="middle" font-size="24">10<tspan font-size="21.5" dy="-11.6">o</tspan><tspan dy="11.6">E</tspan></text>
<text transform="translate(257.8 467.7) scale(1.035 1)" text-anchor="middle" font-size="24">20<tspan font-size="21.5" dy="-11.6">o</tspan><tspan dy="11.6">E</tspan></text>
<text transform="translate(367.2 467.7) scale(1.035 1)" text-anchor="middle" font-size="24">30<tspan font-size="21.5" dy="-11.6">o</tspan><tspan dy="11.6">E</tspan></text>
<text transform="translate(476.0 467.7) scale(1.035 1)" text-anchor="middle" font-size="24">40<tspan font-size="21.5" dy="-11.6">o</tspan><tspan dy="11.6">E</tspan></text>
<text transform="translate(585.1 467.7) scale(1.035 1)" text-anchor="middle" font-size="24">50<tspan font-size="21.5" dy="-11.6">o</tspan><tspan dy="11.6">E</tspan></text>
<text transform="translate(351.3 501.8) scale(1.042 1)" font-size="26.0" text-anchor="middle">Longitude</text>
<text transform="translate(35.5 238.3) rotate(-90)" text-anchor="middle" font-size="26.9">Latitude</text>
<text class="w" transform="translate(520.5 115.5) scale(1.06 1)" font-size="40.5">(a)</text>
</g>
<g transform="translate(766.7 0.0)">
<rect x="108.5" y="49.0" width="484.5" height="378.5" fill="#00008f"/>
<g clip-path="url(#mapclip)"><g mask="url(#coastmask)"><g filter="url(#jetO)"><use href="#ha"/><use href="#sa"/></g></g></g>
<g clip-path="url(#landclip)"><g filter="url(#jet)"><g filter="url(#warp)"><use href="#ha"/></g><use href="#sa"/><ellipse cx="232.6" cy="152.2" rx="18.3" ry="9.2" fill="url(#g)" opacity="0.50" transform="rotate(35 232.6 152.2)"/>
<ellipse cx="280.4" cy="147.7" rx="12.2" ry="12.2" fill="url(#g)" opacity="0.45"/>
<ellipse cx="317.7" cy="135.5" rx="7.1" ry="5.7" fill="url(#g)" opacity="0.50"/>
<ellipse cx="319.1" cy="126.7" rx="22.4" ry="12.2" fill="url(#g)" opacity="0.12" transform="rotate(-35 319.1 126.7)"/>
</g></g>
<g clip-path="url(#mapclip)" fill="none" stroke="#000" stroke-linejoin="round"><use href="#coast" stroke-width="1.4"/><use href="#borders" stroke-width="1.3"/><use href="#lesotho" stroke-width="1.8"/><g fill="#000" stroke="none"><ellipse cx="513.4" cy="172.5" rx="1.7" ry="2.5"/><ellipse cx="517.5" cy="179.4" rx="1.3" ry="1.3"/><ellipse cx="525.2" cy="178.7" rx="1.5" ry="1.3"/><ellipse cx="533.2" cy="185.0" rx="1.9" ry="2.0"/><ellipse cx="474.5" cy="106.5" rx="1.7" ry="3.0"/><ellipse cx="470.3" cy="116.9" rx="2.0" ry="3.7"/><ellipse cx="474.9" cy="134.3" rx="1.4" ry="2.1"/><ellipse cx="473.1" cy="128.7" rx="0.9" ry="0.9"/><ellipse cx="584.4" cy="227.2" rx="1.2" ry="2.0"/><ellipse cx="563.3" cy="196.9" rx="1.3" ry="1.3"/><ellipse cx="566.3" cy="192.4" rx="1.3" ry="1.3"/><ellipse cx="558.4" cy="205.7" rx="1.3" ry="1.3"/><ellipse cx="553.7" cy="212.1" rx="1.3" ry="1.3"/><ellipse cx="546.0" cy="216.9" rx="1.3" ry="1.3"/><ellipse cx="570.7" cy="185.7" rx="1.3" ry="1.3"/><ellipse cx="419.2" cy="177.0" rx="1.2" ry="1.2"/><ellipse cx="425.0" cy="228.7" rx="1.1" ry="1.6"/><circle cx="110.6" cy="51.0" r="1.8"/></g></g>
<rect x="622.2" y="49.2" width="14.3" height="378.2" fill="url(#cb)" stroke="#333" stroke-width="0.6"/>
<line x1="633" x2="636.5" y1="364.3" y2="364.3" stroke="#333" stroke-width="0.7"/><line x1="633" x2="636.5" y1="301.3" y2="301.3" stroke="#333" stroke-width="0.7"/><line x1="633" x2="636.5" y1="238.2" y2="238.2" stroke="#333" stroke-width="0.7"/><line x1="633" x2="636.5" y1="175.2" y2="175.2" stroke="#333" stroke-width="0.7"/><line x1="633" x2="636.5" y1="112.1" y2="112.1" stroke="#333" stroke-width="0.7"/>
<text transform="translate(643.9 436.0) scale(1.020 1)" font-size="21.5">0</text>
<text transform="translate(643.9 372.9) scale(1.020 1)" font-size="21.5">0.2</text>
<text transform="translate(643.9 309.9) scale(1.020 1)" font-size="21.5">0.4</text>
<text transform="translate(643.9 246.8) scale(1.020 1)" font-size="21.5">0.6</text>
<text transform="translate(643.9 183.8) scale(1.020 1)" font-size="21.5">0.8</text>
<text transform="translate(643.9 120.7) scale(1.020 1)" font-size="21.5">1</text>
<text transform="translate(643.9 57.7) scale(1.020 1)" font-size="21.5">1.2</text>
<text transform="translate(639.6 40.8)" font-size="21.5"><tspan font-weight="normal" font-size="23">×</tspan><tspan dx="3.2">10</tspan><tspan font-size="17.5" dy="-10.8" dx="2.6">-10</tspan></text>
<text transform="translate(707.5 298.5) rotate(-90) scale(1 1.020)" font-size="23.2">(kg.m<tspan font-size="17.5" dy="-11">-2</tspan><tspan dy="11">.s</tspan><tspan font-size="17.5" dy="-11">-1</tspan><tspan dy="11">)</tspan></text>
<text class="t" transform="translate(350.2 26.1) scale(1.123 1)" text-anchor="middle" font-size="24.8">SO<tspan font-size="20.8" dy="13.2">2</tspan><tspan dy="-13.2"> biomass burning-JJA (El Nino)</tspan></text>
<text transform="translate(102.0 63.7) scale(1.070 1)" font-size="24.0" text-anchor="end">0</text>
<text transform="translate(102.0 170.4) scale(1.070 1)" text-anchor="end" font-size="24">10<tspan font-size="21.5" dy="-11.6">o</tspan><tspan dy="11.6">S</tspan></text>
<text transform="translate(102.0 271.7) scale(1.070 1)" text-anchor="end" font-size="24">20<tspan font-size="21.5" dy="-11.6">o</tspan><tspan dy="11.6">S</tspan></text>
<text transform="translate(102.0 374.4) scale(1.070 1)" text-anchor="end" font-size="24">30<tspan font-size="21.5" dy="-11.6">o</tspan><tspan dy="11.6">S</tspan></text>
<text transform="translate(149.2 467.7) scale(1.035 1)" text-anchor="middle" font-size="24">10<tspan font-size="21.5" dy="-11.6">o</tspan><tspan dy="11.6">E</tspan></text>
<text transform="translate(257.8 467.7) scale(1.035 1)" text-anchor="middle" font-size="24">20<tspan font-size="21.5" dy="-11.6">o</tspan><tspan dy="11.6">E</tspan></text>
<text transform="translate(367.2 467.7) scale(1.035 1)" text-anchor="middle" font-size="24">30<tspan font-size="21.5" dy="-11.6">o</tspan><tspan dy="11.6">E</tspan></text>
<text transform="translate(476.0 467.7) scale(1.035 1)" text-anchor="middle" font-size="24">40<tspan font-size="21.5" dy="-11.6">o</tspan><tspan dy="11.6">E</tspan></text>
<text transform="translate(585.1 467.7) scale(1.035 1)" text-anchor="middle" font-size="24">50<tspan font-size="21.5" dy="-11.6">o</tspan><tspan dy="11.6">E</tspan></text>
<text transform="translate(351.3 501.8) scale(1.042 1)" font-size="26.0" text-anchor="middle">Longitude</text>
<text transform="translate(35.5 238.3) rotate(-90)" text-anchor="middle" font-size="26.9">Latitude</text>
<text class="w" transform="translate(491.4 115.5) scale(1.06 1)" font-size="40.5">(b)</text>
</g>
<g transform="translate(-4.6 552.6)">
<rect x="108.5" y="49.0" width="484.5" height="378.5" fill="#00008f"/>
<g clip-path="url(#mapclip)"><g mask="url(#coastmask)"><g filter="url(#jetO)"><use href="#hc"/><use href="#sc"/></g></g></g>
<g clip-path="url(#landclip)"><g filter="url(#jet)"><g filter="url(#warp)"><use href="#hc"/></g><use href="#sc"/></g></g>
<g clip-path="url(#mapclip)" fill="none" stroke="#000" stroke-linejoin="round"><use href="#coast" stroke-width="1.4"/><use href="#borders" stroke-width="1.3"/><use href="#lesotho" stroke-width="1.8"/><g fill="#000" stroke="none"><ellipse cx="513.4" cy="172.5" rx="1.7" ry="2.5"/><ellipse cx="517.5" cy="179.4" rx="1.3" ry="1.3"/><ellipse cx="525.2" cy="178.7" rx="1.5" ry="1.3"/><ellipse cx="533.2" cy="185.0" rx="1.9" ry="2.0"/><ellipse cx="474.5" cy="106.5" rx="1.7" ry="3.0"/><ellipse cx="470.3" cy="116.9" rx="2.0" ry="3.7"/><ellipse cx="474.9" cy="134.3" rx="1.4" ry="2.1"/><ellipse cx="473.1" cy="128.7" rx="0.9" ry="0.9"/><ellipse cx="584.4" cy="227.2" rx="1.2" ry="2.0"/><ellipse cx="563.3" cy="196.9" rx="1.3" ry="1.3"/><ellipse cx="566.3" cy="192.4" rx="1.3" ry="1.3"/><ellipse cx="558.4" cy="205.7" rx="1.3" ry="1.3"/><ellipse cx="553.7" cy="212.1" rx="1.3" ry="1.3"/><ellipse cx="546.0" cy="216.9" rx="1.3" ry="1.3"/><ellipse cx="570.7" cy="185.7" rx="1.3" ry="1.3"/><ellipse cx="419.2" cy="177.0" rx="1.2" ry="1.2"/><ellipse cx="425.0" cy="228.7" rx="1.1" ry="1.6"/><circle cx="110.6" cy="51.0" r="1.8"/></g></g>
<rect x="622.2" y="49.2" width="14.3" height="378.2" fill="url(#cb)" stroke="#333" stroke-width="0.6"/>
<line x1="633" x2="636.5" y1="364.3" y2="364.3" stroke="#333" stroke-width="0.7"/><line x1="633" x2="636.5" y1="301.3" y2="301.3" stroke="#333" stroke-width="0.7"/><line x1="633" x2="636.5" y1="238.2" y2="238.2" stroke="#333" stroke-width="0.7"/><line x1="633" x2="636.5" y1="175.2" y2="175.2" stroke="#333" stroke-width="0.7"/><line x1="633" x2="636.5" y1="112.1" y2="112.1" stroke="#333" stroke-width="0.7"/>
<text transform="translate(643.9 436.0) scale(1.020 1)" font-size="21.5">0</text>
<text transform="translate(643.9 372.9) scale(1.020 1)" font-size="21.5">0.2</text>
<text transform="translate(643.9 309.9) scale(1.020 1)" font-size="21.5">0.4</text>
<text transform="translate(643.9 246.8) scale(1.020 1)" font-size="21.5">0.6</text>
<text transform="translate(643.9 183.8) scale(1.020 1)" font-size="21.5">0.8</text>
<text transform="translate(643.9 120.7) scale(1.020 1)" font-size="21.5">1</text>
<text transform="translate(643.9 57.7) scale(1.020 1)" font-size="21.5">1.2</text>
<text transform="translate(639.6 40.8)" font-size="21.5"><tspan font-weight="normal" font-size="23">×</tspan><tspan dx="3.2">10</tspan><tspan font-size="17.5" dy="-10.8" dx="2.6">-10</tspan></text>
<text transform="translate(707.5 298.5) rotate(-90) scale(1 1.020)" font-size="23.2">(kg.m<tspan font-size="17.5" dy="-11">-2</tspan><tspan dy="11">.s</tspan><tspan font-size="17.5" dy="-11">-1</tspan><tspan dy="11">)</tspan></text>
<text class="t" transform="translate(350.2 24.6) scale(1.117 1)" text-anchor="middle" font-size="24.8">SO<tspan font-size="20.8" dy="13.2">2</tspan><tspan dy="-13.2"> biomass burning-SON (La Nina)</tspan></text>
<text transform="translate(102.0 63.7) scale(1.070 1)" font-size="24.0" text-anchor="end">0</text>
<text transform="translate(102.0 170.4) scale(1.070 1)" text-anchor="end" font-size="24">10<tspan font-size="21.5" dy="-11.6">o</tspan><tspan dy="11.6">S</tspan></text>
<text transform="translate(102.0 271.7) scale(1.070 1)" text-anchor="end" font-size="24">20<tspan font-size="21.5" dy="-11.6">o</tspan><tspan dy="11.6">S</tspan></text>
<text transform="translate(102.0 374.4) scale(1.070 1)" text-anchor="end" font-size="24">30<tspan font-size="21.5" dy="-11.6">o</tspan><tspan dy="11.6">S</tspan></text>
<text transform="translate(149.2 467.7) scale(1.035 1)" text-anchor="middle" font-size="24">10<tspan font-size="21.5" dy="-11.6">o</tspan><tspan dy="11.6">E</tspan></text>
<text transform="translate(257.8 467.7) scale(1.035 1)" text-anchor="middle" font-size="24">20<tspan font-size="21.5" dy="-11.6">o</tspan><tspan dy="11.6">E</tspan></text>
<text transform="translate(367.2 467.7) scale(1.035 1)" text-anchor="middle" font-size="24">30<tspan font-size="21.5" dy="-11.6">o</tspan><tspan dy="11.6">E</tspan></text>
<text transform="translate(476.0 467.7) scale(1.035 1)" text-anchor="middle" font-size="24">40<tspan font-size="21.5" dy="-11.6">o</tspan><tspan dy="11.6">E</tspan></text>
<text transform="translate(585.1 467.7) scale(1.035 1)" text-anchor="middle" font-size="24">50<tspan font-size="21.5" dy="-11.6">o</tspan><tspan dy="11.6">E</tspan></text>
<text transform="translate(351.3 501.8) scale(1.042 1)" font-size="26.0" text-anchor="middle">Longitude</text>
<text transform="translate(35.5 238.3) rotate(-90)" text-anchor="middle" font-size="26.9">Latitude</text>
<text class="w" transform="translate(526.9 96.9) scale(1.06 1)" font-size="40.5">(c)</text>
</g>
<g transform="translate(764.2 552.6)">
<rect x="108.5" y="49.0" width="484.5" height="378.5" fill="#00008f"/>
<g clip-path="url(#mapclip)"><g mask="url(#coastmask)"><g filter="url(#jetO)"><use href="#hc"/><use href="#sc"/></g></g></g>
<g clip-path="url(#landclip)"><g filter="url(#jet)"><g filter="url(#warp)"><use href="#hc"/></g><use href="#sc"/></g></g>
<g clip-path="url(#mapclip)" fill="none" stroke="#000" stroke-linejoin="round"><use href="#coast" stroke-width="1.4"/><use href="#borders" stroke-width="1.3"/><use href="#lesotho" stroke-width="1.8"/><g fill="#000" stroke="none"><ellipse cx="513.4" cy="172.5" rx="1.7" ry="2.5"/><ellipse cx="517.5" cy="179.4" rx="1.3" ry="1.3"/><ellipse cx="525.2" cy="178.7" rx="1.5" ry="1.3"/><ellipse cx="533.2" cy="185.0" rx="1.9" ry="2.0"/><ellipse cx="474.5" cy="106.5" rx="1.7" ry="3.0"/><ellipse cx="470.3" cy="116.9" rx="2.0" ry="3.7"/><ellipse cx="474.9" cy="134.3" rx="1.4" ry="2.1"/><ellipse cx="473.1" cy="128.7" rx="0.9" ry="0.9"/><ellipse cx="584.4" cy="227.2" rx="1.2" ry="2.0"/><ellipse cx="563.3" cy="196.9" rx="1.3" ry="1.3"/><ellipse cx="566.3" cy="192.4" rx="1.3" ry="1.3"/><ellipse cx="558.4" cy="205.7" rx="1.3" ry="1.3"/><ellipse cx="553.7" cy="212.1" rx="1.3" ry="1.3"/><ellipse cx="546.0" cy="216.9" rx="1.3" ry="1.3"/><ellipse cx="570.7" cy="185.7" rx="1.3" ry="1.3"/><ellipse cx="419.2" cy="177.0" rx="1.2" ry="1.2"/><ellipse cx="425.0" cy="228.7" rx="1.1" ry="1.6"/><circle cx="110.6" cy="51.0" r="1.8"/></g></g>
<rect x="622.2" y="49.2" width="14.3" height="378.2" fill="url(#cb)" stroke="#333" stroke-width="0.6"/>
<line x1="633" x2="636.5" y1="364.3" y2="364.3" stroke="#333" stroke-width="0.7"/><line x1="633" x2="636.5" y1="301.3" y2="301.3" stroke="#333" stroke-width="0.7"/><line x1="633" x2="636.5" y1="238.2" y2="238.2" stroke="#333" stroke-width="0.7"/><line x1="633" x2="636.5" y1="175.2" y2="175.2" stroke="#333" stroke-width="0.7"/><line x1="633" x2="636.5" y1="112.1" y2="112.1" stroke="#333" stroke-width="0.7"/>
<text transform="translate(643.9 436.0) scale(1.020 1)" font-size="21.5">0</text>
<text transform="translate(643.9 372.9) scale(1.020 1)" font-size="21.5">0.2</text>
<text transform="translate(643.9 309.9) scale(1.020 1)" font-size="21.5">0.4</text>
<text transform="translate(643.9 246.8) scale(1.020 1)" font-size="21.5">0.6</text>
<text transform="translate(643.9 183.8) scale(1.020 1)" font-size="21.5">0.8</text>
<text transform="translate(643.9 120.7) scale(1.020 1)" font-size="21.5">1</text>
<text transform="translate(643.9 57.7) scale(1.020 1)" font-size="21.5">1.2</text>
<text transform="translate(639.6 40.8)" font-size="21.5"><tspan font-weight="normal" font-size="23">×</tspan><tspan dx="3.2">10</tspan><tspan font-size="17.5" dy="-10.8" dx="2.6">-10</tspan></text>
<text transform="translate(707.5 298.5) rotate(-90) scale(1 1.020)" font-size="23.2">(kg.m<tspan font-size="17.5" dy="-11">-2</tspan><tspan dy="11">.s</tspan><tspan font-size="17.5" dy="-11">-1</tspan><tspan dy="11">)</tspan></text>
<text class="t" transform="translate(350.2 24.6) scale(1.117 1)" text-anchor="middle" font-size="24.8">SO<tspan font-size="20.8" dy="13.2">2</tspan><tspan dy="-13.2"> biomass burning-SON (La Nina)</tspan></text>
<text transform="translate(102.0 63.7) scale(1.070 1)" font-size="24.0" text-anchor="end">0</text>
<text transform="translate(102.0 170.4) scale(1.070 1)" text-anchor="end" font-size="24">10<tspan font-size="21.5" dy="-11.6">o</tspan><tspan dy="11.6">S</tspan></text>
<text transform="translate(102.0 271.7) scale(1.070 1)" text-anchor="end" font-size="24">20<tspan font-size="21.5" dy="-11.6">o</tspan><tspan dy="11.6">S</tspan></text>
<text transform="translate(102.0 374.4) scale(1.070 1)" text-anchor="end" font-size="24">30<tspan font-size="21.5" dy="-11.6">o</tspan><tspan dy="11.6">S</tspan></text>
<text transform="translate(149.2 467.7) scale(1.035 1)" text-anchor="middle" font-size="24">10<tspan font-size="21.5" dy="-11.6">o</tspan><tspan dy="11.6">E</tspan></text>
<text transform="translate(257.8 467.7) scale(1.035 1)" text-anchor="middle" font-size="24">20<tspan font-size="21.5" dy="-11.6">o</tspan><tspan dy="11.6">E</tspan></text>
<text transform="translate(367.2 467.7) scale(1.035 1)" text-anchor="middle" font-size="24">30<tspan font-size="21.5" dy="-11.6">o</tspan><tspan dy="11.6">E</tspan></text>
<text transform="translate(476.0 467.7) scale(1.035 1)" text-anchor="middle" font-size="24">40<tspan font-size="21.5" dy="-11.6">o</tspan><tspan dy="11.6">E</tspan></text>
<text transform="translate(585.1 467.7) scale(1.035 1)" text-anchor="middle" font-size="24">50<tspan font-size="21.5" dy="-11.6">o</tspan><tspan dy="11.6">E</tspan></text>
<text transform="translate(351.3 501.8) scale(1.042 1)" font-size="26.0" text-anchor="middle">Longitude</text>
<text transform="translate(35.5 238.3) rotate(-90)" text-anchor="middle" font-size="26.9">Latitude</text>
<text class="w" transform="translate(495.1 96.9) scale(1.06 1)" font-size="40.5">(d)</text>
</g>
</svg>
</body></html>
